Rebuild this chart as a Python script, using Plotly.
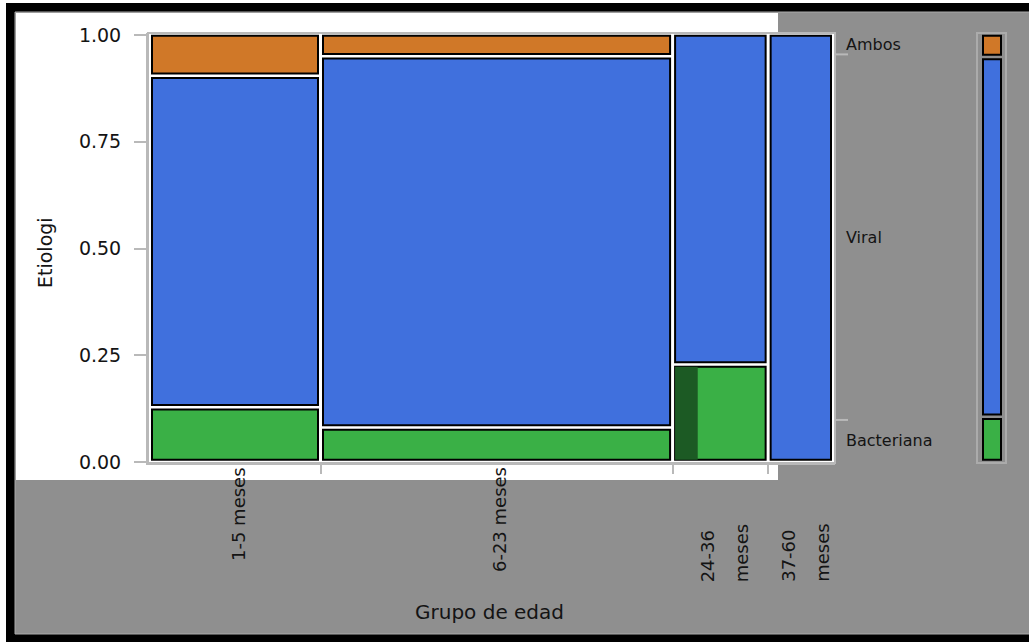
import plotly.graph_objects as go

# ---------------- data ----------------
age_groups = ["1-5 meses", "6-23 meses", "24-36 meses", "37-60 meses"]
etiologies = ["Bacteriana", "Viral", "Ambos"]
bacteriana = [4, 5, 4, 0]
viral = [26, 61, 14, 12]
ambos = [3, 3, 0, 0]
bacteriana_shaded = [0, 0, 1, 0]   # darker sub-portion of the Bacteriana tile
y_ticks = [0.0, 0.25, 0.5, 0.75, 1.0]
x_title = "Grupo de edad"
y_title = "Etiologi"

colors = {"Bacteriana": "#3AB046", "Viral": "#4070DD", "Ambos": "#D07828"}
shade_color = "#1C5A24"
BG_GRAY = "#8F8F8F"
AX_GRAY = "#B9B9B9"
TXT = "#141414"
FONT = "DejaVu Sans"

# ---------------- geometry helpers ----------------
W, H = 1029, 642
PL, PR, PT, PB = 148, 1006, 33, 463          # plot area in pixels
def px2x(px): return (px - PL) / (PR - PL)
def py2y(py): return (PB - py) / (PB - PT)

UNIT_PX = 664.0                 # pixels per unit of proportion (x)
GAP_X = 5 / UNIT_PX
Y0, Y1 = 0.005, 0.998
GAP_Y = 4.5 / 427.0

series = {"Bacteriana": bacteriana, "Viral": viral, "Ambos": ambos}
totals = [b + v + a for b, v, a in zip(bacteriana, viral, ambos)]
N = sum(totals)

# column positions
col_x0, col_w = [], []
acc = 0.0
for i, t in enumerate(totals):
    w = t / N
    col_x0.append(acc + i * GAP_X)
    col_w.append(w)
    acc += w

# tile positions
tiles = {e: dict(x=[], w=[], base=[], h=[]) for e in etiologies}
for i, t in enumerate(totals):
    nz = [e for e in etiologies if series[e][i] > 0]
    avail = (Y1 - Y0) - (len(nz) - 1) * GAP_Y
    y = Y0
    for e in nz:
        h = series[e][i] / t * avail
        d = tiles[e]
        d["x"].append(col_x0[i] + col_w[i] / 2)
        d["w"].append(col_w[i])
        d["base"].append(y)
        d["h"].append(h)
        y += h + GAP_Y

fig = go.Figure()
for e in etiologies:
    d = tiles[e]
    fig.add_trace(go.Bar(
        x=d["x"], y=d["h"], base=d["base"], width=d["w"],
        marker=dict(color=colors[e], line=dict(color="black", width=2)),
        xaxis="x", yaxis="y", name=e, showlegend=False, hoverinfo="skip"))

# shaded sub-portion
sx, sw, sb, sh = [], [], [], []
for i, s in enumerate(bacteriana_shaded):
    if s > 0 and bacteriana[i] > 0:
        frac = s / bacteriana[i]
        avail_n = len([e for e in etiologies if series[e][i] > 0])
        avail = (Y1 - Y0) - (avail_n - 1) * GAP_Y
        h = bacteriana[i] / totals[i] * avail
        ww = col_w[i] * frac
        sx.append(col_x0[i] + ww / 2); sw.append(ww); sb.append(Y0); sh.append(h)
fig.add_trace(go.Bar(x=sx, y=sh, base=sb, width=sw,
                     marker=dict(color=shade_color, line=dict(width=0)),
                     xaxis="x", yaxis="y", showlegend=False, hoverinfo="skip"))

# marginal bar (right)
marg = {e: sum(series[e]) for e in etiologies}
avail = (Y1 - Y0) - (len(etiologies) - 1) * GAP_Y
y = Y0
for e in etiologies:
    h = marg[e] / N * avail
    fig.add_trace(go.Bar(x=[0.5], y=[h], base=[y], width=[1.0],
                         marker=dict(color=colors[e], line=dict(color="black", width=2)),
                         xaxis="x2", yaxis="y", showlegend=False, hoverinfo="skip"))
    y += h + GAP_Y

# proportions for right-hand axis labels
cum = 0.0
right_mid, right_bounds = [], []
for e in etiologies:
    p = marg[e] / N
    right_mid.append(cum + p / 2)
    cum += p
    if cum < 0.999:
        right_bounds.append(cum)

main_dom = [0, px2x(835)]
mini_dom = [px2x(977), 1]

shapes = [
    # outer black frame, gray canvas, white region
    dict(type="rect", xref="paper", yref="paper", x0=px2x(6), x1=px2x(1040),
         y0=py2y(3), y1=py2y(650), fillcolor="black", line=dict(width=0), layer="below"),
    dict(type="rect", xref="paper", yref="paper", x0=px2x(15), x1=px2x(1040),
         y0=py2y(12), y1=py2y(634), fillcolor=BG_GRAY, line=dict(color="#ABABAB", width=1), layer="below"),
    dict(type="rect", xref="paper", yref="paper", x0=px2x(16), x1=px2x(778),
         y0=py2y(13), y1=py2y(480), fillcolor="white", line=dict(width=0), layer="below"),
    # main panel
    dict(type="rect", xref="x domain", yref="y domain", x0=0, x1=1, y0=0, y1=1,
         fillcolor="white", line=dict(color=AX_GRAY, width=2), layer="below"),
    # mini panel
    dict(type="rect", xref="x2 domain", yref="y domain", x0=0, x1=1, y0=0, y1=1,
         fillcolor="rgba(0,0,0,0)", line=dict(color="#ABABAB", width=2), layer="below"),
]
for b in right_bounds:
    shapes.append(dict(type="line", xref="x domain", yref="y", x0=1, x1=1 + 13 / 687,
                       y0=b, y1=b, line=dict(color=AX_GRAY, width=2)))

annotations = []
# x category labels
for i, lab in enumerate(age_groups):
    cx = col_x0[i] + col_w[i] / 2
    if col_w[i] * UNIT_PX < 120:
        parts = lab.split(" ", 1)
        for k, part in enumerate(parts):
            annotations.append(dict(text=part, x=cx, xref="x", y=py2y(584), yref="paper",
                                    xanchor="center", yanchor="bottom", textangle=-90,
                                    showarrow=False, xshift=4 + (k - 0.5) * 34,
                                    font=dict(family=FONT, size=18, color=TXT)))
    else:
        annotations.append(dict(text=lab, x=cx, xref="x", y=py2y(465), yref="paper",
                                xanchor="center", yanchor="top", textangle=-90,
                                showarrow=False, xshift=3,
                                font=dict(family=FONT, size=18, color=TXT)))
# right labels
for e, m in zip(etiologies, right_mid):
    annotations.append(dict(text=e, x=px2x(844), xref="paper", y=m, yref="y",
                            xanchor="left", yanchor="middle", showarrow=False,
                            font=dict(family=FONT, size=16, color=TXT)))
# axis titles
annotations.append(dict(text=x_title, x=px2x(489), xref="paper", y=py2y(612), yref="paper",
                        xanchor="center", yanchor="middle", showarrow=False,
                        font=dict(family=FONT, size=20, color=TXT)))
annotations.append(dict(text=y_title, x=px2x(45), xref="paper", y=py2y(253), yref="paper",
                        xanchor="center", yanchor="middle", textangle=-90, showarrow=False,
                        font=dict(family=FONT, size=19, color=TXT)))

gap_mids = [col_x0[i] + col_w[i] + GAP_X / 2 for i in range(len(totals) - 1)]

fig.update_layout(
    width=W, height=H, autosize=False,
    margin=dict(l=PL, r=W - PR, t=PT, b=H - PB, pad=0),
    paper_bgcolor="white", plot_bgcolor="rgba(0,0,0,0)",
    barmode="overlay", hovermode=False, showlegend=False,
    shapes=shapes, annotations=annotations,
    xaxis=dict(domain=main_dom, range=[-4 / UNIT_PX, 683 / UNIT_PX], anchor="y",
               tickvals=gap_mids, ticktext=[""] * len(gap_mids), ticks="outside",
               ticklen=9, tickwidth=2, tickcolor=AX_GRAY, showline=True,
               linecolor=AX_GRAY, linewidth=2, showgrid=False, zeroline=False, fixedrange=True),
    xaxis2=dict(domain=mini_dom, range=[-6 / 18, 23 / 18], anchor="y", visible=False,
                showgrid=False, zeroline=False, fixedrange=True),
    yaxis=dict(range=[-1 / 427, 1 + 2 / 427], tickvals=y_ticks, tickformat=".2f",
               ticks="outside", ticklen=12, tickwidth=2, tickcolor=AX_GRAY,
               showline=True, linecolor=AX_GRAY, linewidth=2, showgrid=False,
               zeroline=False, ticklabelstandoff=9,
               tickfont=dict(family=FONT, size=19, color=TXT), fixedrange=True),
    font=dict(family=FONT, color=TXT),
)

fig.write_html("out.html")
